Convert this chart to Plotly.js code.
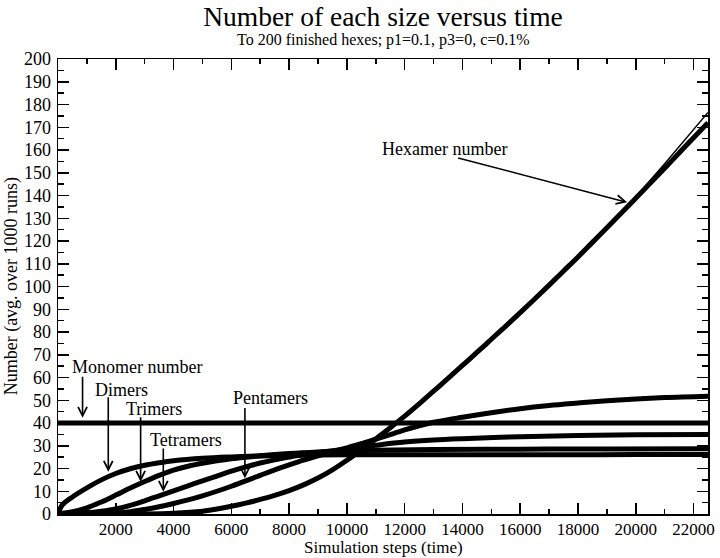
<!DOCTYPE html>
<html>
<head>
<meta charset="utf-8">
<script src="https://cdn.plot.ly/plotly-3.0.1.min.js"></script>
<style>html,body{margin:0;padding:0;background:#fff;}#chart{width:720px;height:558px;}</style>
</head>
<body>
<div id="chart"></div>
<script>
// ---- data ----
const monomerX = [0, 5000, 10000, 15000, 22500];
const monomerY = [40, 40, 40, 40, 40];

const dimerX = [0, 150, 500, 1000, 1500, 2000, 2500, 3000, 3500, 4000, 5000, 6000, 7000, 8500, 10000, 12000, 14000, 16000, 18000, 20000, 22500];
const dimerY = [0, 4, 7.5, 11.5, 15, 17.8, 19.9, 21.4, 22.5, 23.4, 24.5, 25.1, 25.5, 25.8, 26, 26, 26, 26, 26, 26.1, 26.2];

const trimerX = [0, 500, 1000, 1500, 2000, 2500, 3000, 3500, 4000, 4500, 5000, 5500, 6000, 7000, 8000, 9000, 10000, 11000, 13000, 16000, 19000, 22500];
const trimerY = [0, 1, 2.7, 5.3, 8.3, 11.4, 14.3, 17, 19.3, 21, 22.3, 23.4, 24.3, 25.6, 26.6, 27.3, 27.8, 28, 28.3, 28.5, 28.6, 28.7];

const tetramerX = [0, 1000, 1500, 2000, 2500, 3000, 3500, 4000, 4500, 5000, 5500, 6000, 6500, 7000, 7500, 8000, 8500, 9000, 10000, 11000, 12000, 13000, 14000, 16000, 18000, 20000, 22500];
const tetramerY = [0, 0.5, 1.2, 2.2, 3.8, 5.8, 8, 10.2, 12.4, 14.6, 16.7, 18.8, 20.7, 22.4, 23.8, 25, 26.1, 27, 28.6, 30.2, 31.6, 32.5, 33.1, 34, 34.5, 34.8, 35];

const pentamerX = [0, 1000, 2000, 2500, 3000, 3500, 4000, 4500, 5000, 5500, 6000, 6500, 7000, 7500, 8000, 8500, 9000, 9500, 10000, 10500, 11000, 11500, 12000, 12500, 13000, 13500, 14000, 15000, 16000, 17000, 18000, 19000, 20000, 21000, 22500];
const pentamerY = [0, 0, 0.4, 1, 2, 3.2, 4.6, 6.2, 8, 10, 12.2, 14.6, 17, 19.4, 21.6, 23.7, 25.6, 27.4, 29.1, 30.9, 32.9, 34.9, 37, 38.8, 40.3, 41.5, 42.5, 44.5, 46.3, 47.7, 48.8, 49.8, 50.6, 51.2, 51.8];

const hexamerX = [0, 3000, 4000, 5000, 5500, 6000, 6500, 7000, 7500, 8000, 8500, 9000, 9500, 10000, 10500, 11000, 11500, 12000, 12500, 13000, 13500, 14000, 14500, 15000, 15500, 16000, 16500, 17000, 17500, 18000, 18500, 19000, 19500, 20000, 20500, 21000, 21500, 22000, 22500];
const hexamerY = [0, 0, 0.3, 1.2, 2.2, 3.4, 4.8, 6.4, 8.2, 10.3, 12.8, 15.8, 19.4, 23.6, 28.2, 33, 37.9, 43, 48.4, 54, 59.6, 65.3, 71, 76.8, 82.6, 88.5, 94.5, 100.6, 106.8, 113, 119.4, 125.8, 132.3, 138.8, 145.4, 152, 158.7, 165.4, 172];

const fitX = [19000, 20000, 21000, 22500];
const fitY = [126, 139.5, 154, 176.5];

const xTickVals = [2000, 4000, 6000, 8000, 10000, 12000, 14000, 16000, 18000, 20000, 22000];
const xTickText = ["2000", "4000", "6000", "8000", "10000", "12000", "14000", "16000", "18000", "20000", "22000"];
const yTickVals = [0, 10, 20, 30, 40, 50, 60, 70, 80, 90, 100, 110, 120, 130, 140, 150, 160, 170, 180, 190, 200];

// label text, label position, arrow tail, arrow head (data coords)
const labelText = ["Monomer number", "Dimers", "Trimers", "Tetramers", "Pentamers", "Hexamer number"];
const labelX = [415, 2200, 3340, 4425, 7350, 13390];
const labelY = [64.8, 54.6, 46.3, 32.6, 51, 160.4];
const labelAnchor = ["left", "center", "center", "center", "center", "center"];
const tailX = [850, 1740, 2860, 3645, 6470, 13800];
const tailY = [61, 52, 43.2, 29.4, 47.3, 156.7];
const headX = [850, 1740, 2860, 3645, 6470, 19700];
const headY = [42.3, 18.6, 14.2, 9.8, 15.7, 137];

const FONT = "Liberation Serif, Times New Roman, serif";

function band(x, y, w) {
  return {x: x, y: y, type: "scatter", mode: "lines",
          line: {color: "#000", width: w, shape: "spline", smoothing: 1},
          hoverinfo: "skip", showlegend: false};
}

const traces = [
  band(monomerX, monomerY, 5),
  band(dimerX, dimerY, 5),
  band(trimerX, trimerY, 5),
  band(tetramerX, tetramerY, 5),
  band(pentamerX, pentamerY, 5),
  band(hexamerX, hexamerY, 5),
  {x: fitX, y: fitY, type: "scatter", mode: "lines",
   line: {color: "#000", width: 1.5}, hoverinfo: "skip", showlegend: false}
];

const annotations = [];
for (let i = 0; i < labelText.length; i++) {
  annotations.push({
    x: labelX[i], y: labelY[i], xref: "x", yref: "y",
    text: labelText[i], showarrow: false,
    xanchor: labelAnchor[i], yanchor: "middle",
    font: {family: FONT, size: 18, color: "#000"}
  });
  annotations.push({
    x: headX[i], y: headY[i], ax: tailX[i], ay: tailY[i],
    xref: "x", yref: "y", axref: "x", ayref: "y",
    text: "", showarrow: true, arrowhead: 5, arrowsize: 1.1,
    arrowwidth: 1.6, arrowcolor: "#000"
  });
}
annotations.push({
  xref: "paper", yref: "paper", x: 0.5, y: (514 - 40) / 455,
  text: "To 200 finished hexes; p1=0.1, p3=0, c=0.1%",
  showarrow: false, xanchor: "center", yanchor: "middle",
  font: {family: FONT, size: 16, color: "#000"}
});
annotations.push({
  xref: "paper", yref: "paper", x: -0.071, y: 0.5,
  text: "Number (avg. over 1000 runs)", textangle: -90,
  showarrow: false, xanchor: "center", yanchor: "middle",
  font: {family: FONT, size: 18, color: "#000"}
});
annotations.push({
  xref: "paper", yref: "paper", x: 0.5, y: (514 - 557.5) / 455,
  text: "Simulation steps (time)", borderpad: 0,
  showarrow: false, xanchor: "center", yanchor: "bottom",
  font: {family: FONT, size: 17, color: "#000"}
});

const layout = {
  width: 720, height: 558,
  margin: {l: 58, r: 12, t: 59, b: 44, pad: 0},
  paper_bgcolor: "#fff", plot_bgcolor: "#fff",
  showlegend: false,
  font: {family: FONT, size: 18, color: "#000"},
  title: {text: "Number of each size versus time", x: 0.5, xref: "paper",
          y: 1 - 16 / 558, yref: "container", yanchor: "middle",
          font: {family: FONT, size: 27.5, color: "#000"}},
  xaxis: {range: [0, 22500], tickmode: "array", tickvals: xTickVals, ticktext: xTickText,
          ticks: "inside", ticklen: 11, tickwidth: 1.5, tickcolor: "#000",
          showline: true, linewidth: 1.5, linecolor: "#000", mirror: "ticks",
          showgrid: false, zeroline: false, ticklabelstandoff: -1,
          tickfont: {family: FONT, size: 17, color: "#000"},
          minor: {dtick: 1000, tick0: 0, ticks: "inside", ticklen: 5, tickwidth: 1.5, tickcolor: "#000", showgrid: false}},
  yaxis: {range: [0, 200], tickmode: "array", tickvals: yTickVals,
          ticks: "inside", ticklen: 11, tickwidth: 1.5, tickcolor: "#000",
          showline: true, linewidth: 1.5, linecolor: "#000", mirror: "ticks",
          showgrid: false, zeroline: false, ticklabelstandoff: 2,
          tickfont: {family: FONT, size: 18, color: "#000"},
          minor: {dtick: 5, tick0: 0, ticks: "inside", ticklen: 6, tickwidth: 1.5, tickcolor: "#000", showgrid: false}},
  annotations: annotations
};

Plotly.newPlot("chart", traces, layout, {displayModeBar: false, staticPlot: true});
</script>
</body>
</html>
